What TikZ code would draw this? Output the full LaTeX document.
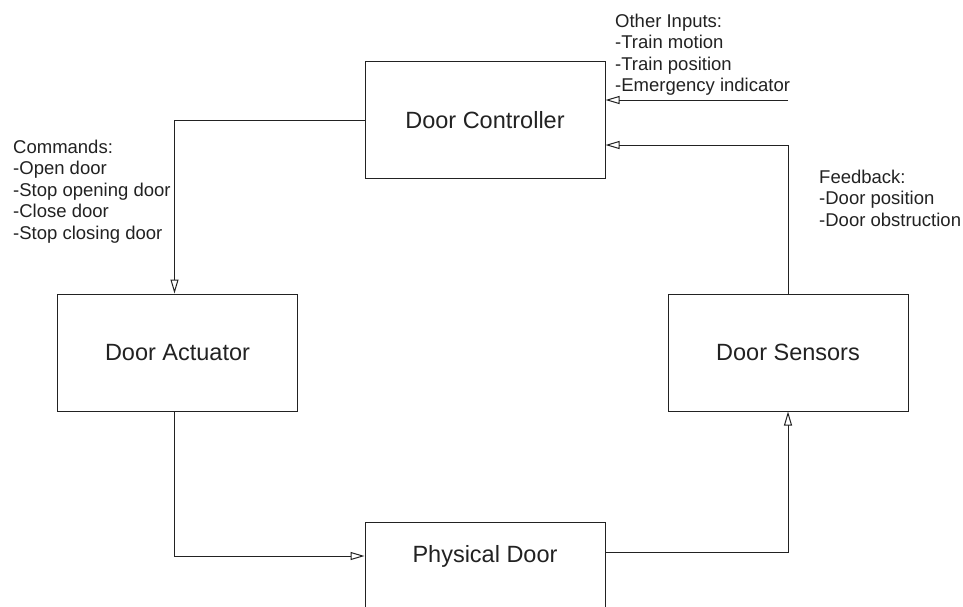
\documentclass[tikz,border=0pt]{standalone}
\usepackage{fontspec}
\setmainfont{Liberation Sans}
\usetikzlibrary{arrows.meta,calc}
\definecolor{ink}{HTML}{222222}
\begin{document}
\begin{tikzpicture}[x=1pt,y=-1pt,
  box/.style={draw=ink, line width=1pt, minimum width=240pt, minimum height=117pt, inner sep=0pt, font=\fontsize{23.5}{28}\selectfont, text=ink},
  boxtext/.style={inner sep=0pt, font=\fontsize{23.5}{28}\selectfont, text=ink},
  note/.style={align=left, anchor=north west, inner sep=0pt, font=\fontsize{18.5}{21.5}\selectfont, text=ink},
  conn/.style={draw=ink, line width=1pt, -{Triangle[open, length=14pt, width=8pt]}},
  plain/.style={draw=ink, line width=1pt}]
\useasboundingbox (0,0) rectangle (963,606);
\clip (0,0) rectangle (963,606);
\fill[white] (0,0) rectangle (963,606);

\node[box] (dc) at (485,120) {Door Controller};
\node[box] (da) at (177.5,352.5) {Door Actuator};
\node[box] (ds) at (788,352.5) {Door Sensors};
\node[box, minimum height=140pt, anchor=north] (pd) at (485,522) {};
\node[boxtext] (pdt) at (485,556) {Physical Door};

\node[note] (cmd) at (13,139.5) {Commands:\\-Open door\\-Stop opening door\\-Close door\\-Stop closing door};
\node[note] (oin) at (615,13.5) {Other Inputs:\\-Train motion\\-Train position\\-Emergency indicator};
\node[note] (fb) at (819,169.5) {Feedback:\\-Door position\\-Door obstruction};

\coordinate (oi) at (788,100);
\draw[conn] (oi) -- (oi -| dc.east);
\draw[conn] (ds.north) |- ($(dc.east)+(0,25)$);
\draw[conn] (dc.west) -| ($(da.north)+(-3,0)$);
\draw[conn] ($(da.south)+(-3,0)$) |- (pd.west |- pdt);
\draw[conn] ($(pd.east |- pdt)+(0,-4)$) -| (ds.south);
\end{tikzpicture}
\end{document}
